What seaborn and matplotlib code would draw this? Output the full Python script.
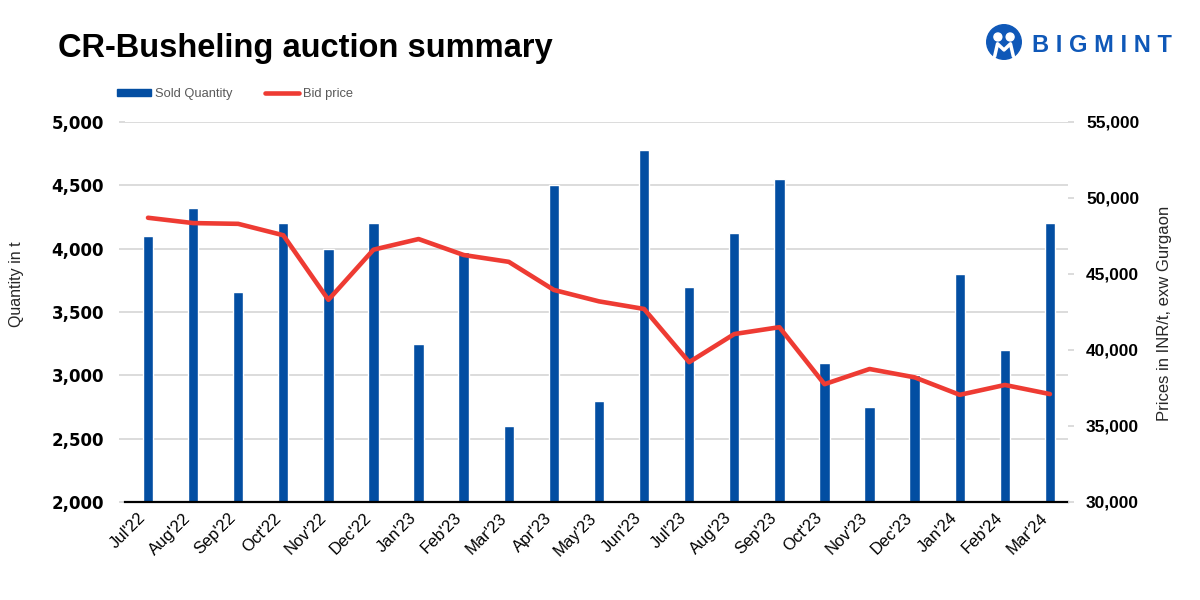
import numpy as np
import pandas as pd
import matplotlib
matplotlib.use("Agg")
import matplotlib.pyplot as plt
import matplotlib.transforms as mtransforms
import seaborn as sns
from matplotlib.patches import Patch, Circle
from matplotlib.lines import Line2D
from matplotlib.ticker import FuncFormatter

months = ["Jul'22", "Aug'22", "Sep'22", "Oct'22", "Nov'22", "Dec'22", "Jan'23",
          "Feb'23", "Mar'23", "Apr'23", "May'23", "Jun'23", "Jul'23", "Aug'23",
          "Sep'23", "Oct'23", "Nov'23", "Dec'23", "Jan'24", "Feb'24", "Mar'24"]
sold_qty = [4100, 4320, 3660, 4200, 4000, 4200, 3250, 3975, 2600, 4500, 2800,
            4780, 3700, 4120, 4550, 3100, 2750, 3000, 3800, 3200, 4200]
bid_price = [48700, 48350, 48300, 47550, 43300, 46600, 47300, 46250, 45800,
             43950, 43200, 42700, 39200, 41050, 41500, 37750, 38750, 38200,
             37050, 37700, 37100]
left_ticks = [2000, 2500, 3000, 3500, 4000, 4500, 5000]
right_ticks = [30000, 35000, 40000, 45000, 50000, 55000]

BLUE = "#034EA2"
RED = "#EE3B33"
GRID = "#D9D9D9"
LOGO = "#0F58B8"

sns.set_theme(style="white")
plt.rcParams["font.family"] = ["Liberation Sans", "DejaVu Sans"]

df = pd.DataFrame({"month": months, "qty": sold_qty, "price": bid_price,
                   "pos": np.arange(len(months))})

fig = plt.figure(figsize=(12, 6), dpi=100)
ax = fig.add_axes([125 / 1200, 1 - 502 / 600, (1068 - 125) / 1200, 380 / 600])

sns.barplot(data=df, x="month", y="qty", color=BLUE, saturation=1, width=0.23,
            ax=ax, zorder=2)
ax.set_ylim(2000, 5000)
ax.set_yticks(left_ticks)
ax.yaxis.set_major_formatter(FuncFormatter(lambda v, p: f"{int(v):,}"))
XL = (-0.51, len(months) - 0.6)
ax.set_xlim(*XL)
ax.grid(axis="y", color=GRID, linewidth=1.3, zorder=0)
ax.set_axisbelow(True)
for s in ["top", "left", "right"]:
    ax.spines[s].set_visible(False)
ax.spines["bottom"].set_color("black")
ax.spines["bottom"].set_linewidth(1.6)
ax.spines["bottom"].set_zorder(5)
ax.set_xlabel("")
ax.set_ylabel("")
ax.tick_params(axis="y", length=4, width=1.3, color=GRID, pad=11)
ax.tick_params(axis="x", length=0, pad=6)
ax.set_xticks(range(len(months)))
ax.set_xticklabels(months, rotation=45, ha="right", va="top",
                   rotation_mode="anchor", fontsize=12, color="black")
offset = mtransforms.ScaledTranslation(-10 / 100, 0, fig.dpi_scale_trans)
for lab in ax.get_xticklabels():
    lab.set_transform(lab.get_transform() + offset)
for lab in ax.get_yticklabels():
    lab.set_fontweight("bold")
    lab.set_fontfamily("DejaVu Sans")
    lab.set_fontsize(12)
    lab.set_color("black")
ax.yaxis.get_major_ticks()[0].tick1line.set_color("black")

ax2 = ax.twinx()
sns.lineplot(data=df, x="pos", y="price", color=RED, linewidth=3.3, ax=ax2,
             sort=False, zorder=4)
ax2.set_ylim(30000, 55000)
ax2.set_yticks(right_ticks)
ax2.yaxis.set_major_formatter(FuncFormatter(lambda v, p: f"{int(v):,}"))
for s in ["top", "left", "right", "bottom"]:
    ax2.spines[s].set_visible(False)
ax2.set_xlabel("")
ax2.set_ylabel("")
ax2.tick_params(axis="y", length=4, width=1.3, color=GRID, pad=9)
for lab in ax2.get_yticklabels():
    lab.set_fontweight("bold")
    lab.set_fontsize(12.5)
    lab.set_color("black")
ax2.yaxis.get_major_ticks()[0].tick2line.set_color("black")
ax2.set_xlim(*XL)

# axis titles
fig.text(17 / 1200, 1 - 284 / 600, "Quantity in t", rotation=90, ha="center",
         va="center", fontsize=11.5, color="#262626")
fig.text(1164 / 1200, 1 - 313 / 600, "Prices in INR/t, exw Gurgaon", rotation=90,
         ha="center", va="center", fontsize=12, color="#262626")

# title
fig.text(58 / 1200, 1 - 48 / 600, "CR-Busheling auction summary", fontsize=23.5,
         fontweight="bold", ha="left", va="center", color="black")

# legend
handles = [Patch(facecolor=BLUE, edgecolor=BLUE),
           Line2D([0], [0], color=RED, linewidth=3.3, solid_capstyle="round")]
fig.legend(handles, ["Sold Quantity", "Bid price"], loc="center left",
           bbox_to_anchor=(117 / 1200, 1 - 94 / 600), ncol=2, frameon=False,
           fontsize=9.3, labelcolor="#595959", handlelength=2.65, handleheight=0.5,
           handletextpad=0.3, columnspacing=2.5, borderpad=0, borderaxespad=0)

# logo
lax = fig.add_axes([986 / 1200, 1 - 60 / 600, 36 / 1200, 36 / 600])
lax.set_xlim(0, 1)
lax.set_ylim(0, 1)
lax.set_aspect("equal")
lax.axis("off")
lax.add_patch(Circle((0.5, 0.5), 0.48, color=LOGO))
lax.add_patch(Circle((0.33, 0.64), 0.11, color="white"))
lax.add_patch(Circle((0.67, 0.64), 0.11, color="white"))
lax.plot([0.24, 0.32, 0.5, 0.68, 0.76], [0.1, 0.45, 0.28, 0.45, 0.1],
         color="white", linewidth=2.5)
fig.text(1032 / 1200, 1 - 46 / 600, "B I G M I N T", fontsize=17,
         fontweight="bold", color=LOGO, ha="left", va="center")

fig.savefig("out.png", dpi=100)
